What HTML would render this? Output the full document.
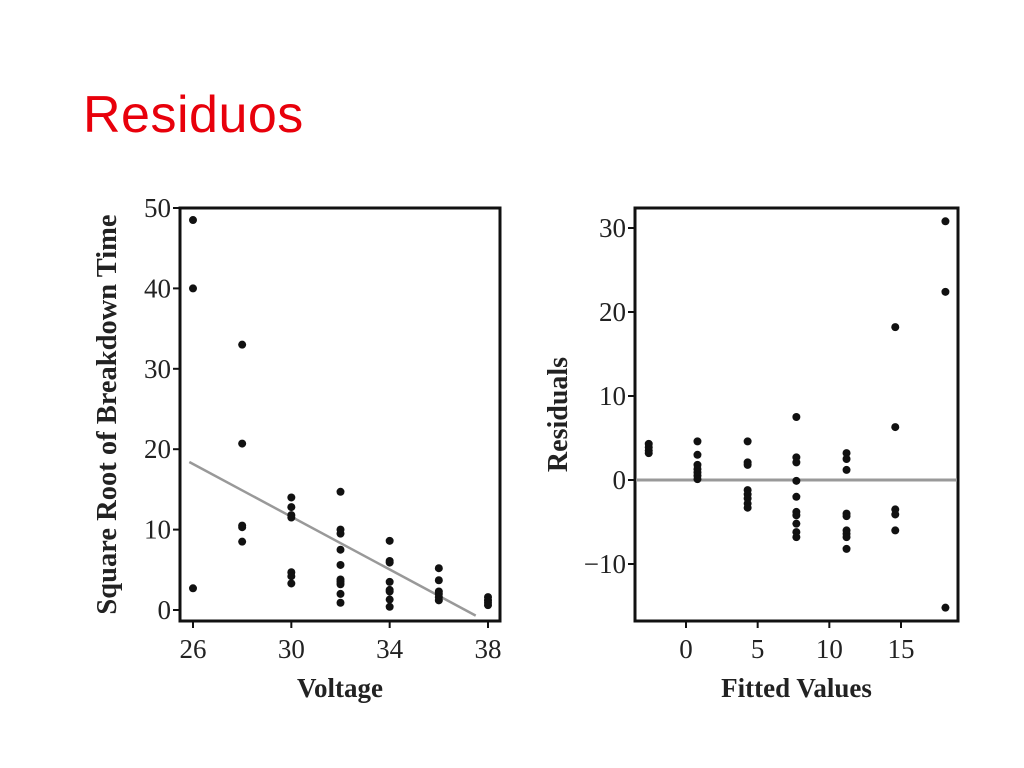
<!DOCTYPE html>
<html><head><meta charset="utf-8"><style>
body{margin:0;width:1024px;height:768px;background:#fff;overflow:hidden;font-family:"Liberation Serif",serif}
.t{position:absolute;left:83px;top:85px;font:52px "Liberation Sans",sans-serif;color:#e8000b;letter-spacing:0.5px}
</style></head><body>
<div class="t">Residuos</div>
<svg width="1024" height="768" style="position:absolute;left:0;top:0" id="s">
<g id="L"></g>
<g id="R"></g>
</svg>
<script>
const lx=[26,26,26,28,28,28,28,28,30,30,30,30,30,30,30,32,32,32,32,32,32,32,32,32,32,34,34,34,34,34,34,34,34,36,36,36,36,36,36,38,38,38,38];
const ly=[48.5,40,2.7,33,20.7,10.5,10.3,8.5,14,12.8,11.8,11.5,4.7,4.2,3.3,14.7,10,9.5,7.5,5.6,3.8,3.5,3.2,2,0.9,8.6,6.1,5.9,3.5,2.5,2.3,1.3,0.4,5.2,3.7,2.3,2,1.6,1.2,1.6,1.2,0.9,0.6];
const lXt=[26,30,34,38], lYt=[0,10,20,30,40,50];
const fitA=60.8, fitB=-1.64;
const rx=[-2.6,-2.6,-2.6,-2.6,0.8,0.8,0.8,0.8,0.8,0.8,0.8,4.3,4.3,4.3,4.3,4.3,4.3,4.3,4.3,7.7,7.7,7.7,7.7,7.7,7.7,7.7,7.7,7.7,7.7,11.2,11.2,11.2,11.2,11.2,11.2,11.2,11.2,11.2,14.6,14.6,14.6,14.6,14.6,18.1,18.1,18.1];
const ry=[4.3,3.9,3.5,3.2,4.6,3.0,1.8,1.3,0.9,0.5,0.1,4.6,2.1,1.8,-1.2,-1.7,-2.2,-2.8,-3.3,7.5,2.7,2.1,-0.1,-2.0,-3.8,-4.2,-5.2,-6.2,-6.8,3.2,2.5,1.2,-4.0,-4.3,-6.0,-6.4,-6.8,-8.2,18.2,6.3,-3.5,-4.1,-6.0,30.8,22.4,-15.2];
const rXt=[0,5,10,15], rYt=[-10,0,10,20,30];
const NS='http://www.w3.org/2000/svg';
function mk(p,t,a){const e=document.createElementNS(NS,t);for(const k in a)e.setAttribute(k,a[k]);p.appendChild(e);return e;}
function chart(g,box,xs,ys,xt,yt,px,py,xl,yl,pre){
  const X=v=>box.x0+(v-xs[0])*(box.x1-box.x0)/(xs[1]-xs[0]);
  const Y=v=>box.y0+(v-ys[0])*(box.y1-box.y0)/(ys[1]-ys[0]);
  const f=mk(g,'rect',{x:box.l,y:box.t,width:box.r-box.l,height:box.b-box.t,fill:'none',stroke:'#111','stroke-width':3});
  
  
  xt.forEach(v=>{mk(g,'line',{x1:X(v),x2:X(v),y1:box.b,y2:box.b+7,stroke:'#111','stroke-width':2});
    const t=mk(g,'text',{x:X(v),y:box.b+37,'text-anchor':'middle','font-size':27,fill:'#222'});t.textContent=v<0?'\u2212'+(-v):v;
    
    });
  yt.forEach(v=>{mk(g,'line',{x1:box.l-7,x2:box.l,y1:Y(v),y2:Y(v),stroke:'#111','stroke-width':2});
    const t=mk(g,'text',{x:box.l-9,y:Y(v)+9,'text-anchor':'end','font-size':27,fill:'#222'});t.textContent=v<0?'\u2212'+(-v):v;
    
    });
  const xa=mk(g,'text',{x:(box.l+box.r)/2,y:box.b+76,'text-anchor':'middle','font-size':27,'font-weight':'bold',fill:'#222'});xa.textContent=xl;
  
  
  const ya=mk(g,'text',{x:0,y:0,transform:`translate(${box.yt},${(box.t+box.b)/2}) rotate(-90)`,'text-anchor':'middle','font-size':box.yf,'font-weight':'bold',fill:'#222'});ya.textContent=yl;
  
  
  return {X,Y,dots(){px.forEach((v,i)=>{const c=mk(g,'circle',{cx:X(v),cy:Y(py[i]),r:4,fill:'#111'});
    
    });}};
}
const L=document.getElementById('L'),R=document.getElementById('R');
const a=chart(L,{l:180,r:500,t:208,b:621,x0:193,x1:488,y0:610,y1:208,yt:116,yf:28.5},[26,38],[0,50],lXt,lYt,lx,ly,'Voltage','Square Root of Breakdown Time','left-');
const x1=25.85,x2=(fitA+0.7)/-fitB;
const fl=mk(L,'line',{x1:a.X(x1),y1:a.Y(fitA+fitB*x1),x2:a.X(x2),y2:a.Y(fitA+fitB*x2),stroke:'#999','stroke-width':2.5});


a.dots();
const b=chart(R,{l:635,r:958,t:208,b:621,x0:686,x1:901,y0:480,y1:228,yt:567,yf:28},[0,15],[0,30],rXt,rYt,rx,ry,'Fitted Values','Residuals','right-');
const zl=mk(R,'line',{x1:636,x2:957,y1:b.Y(0),y2:b.Y(0),stroke:'#999','stroke-width':3});


b.dots();
</script>
</body></html>
